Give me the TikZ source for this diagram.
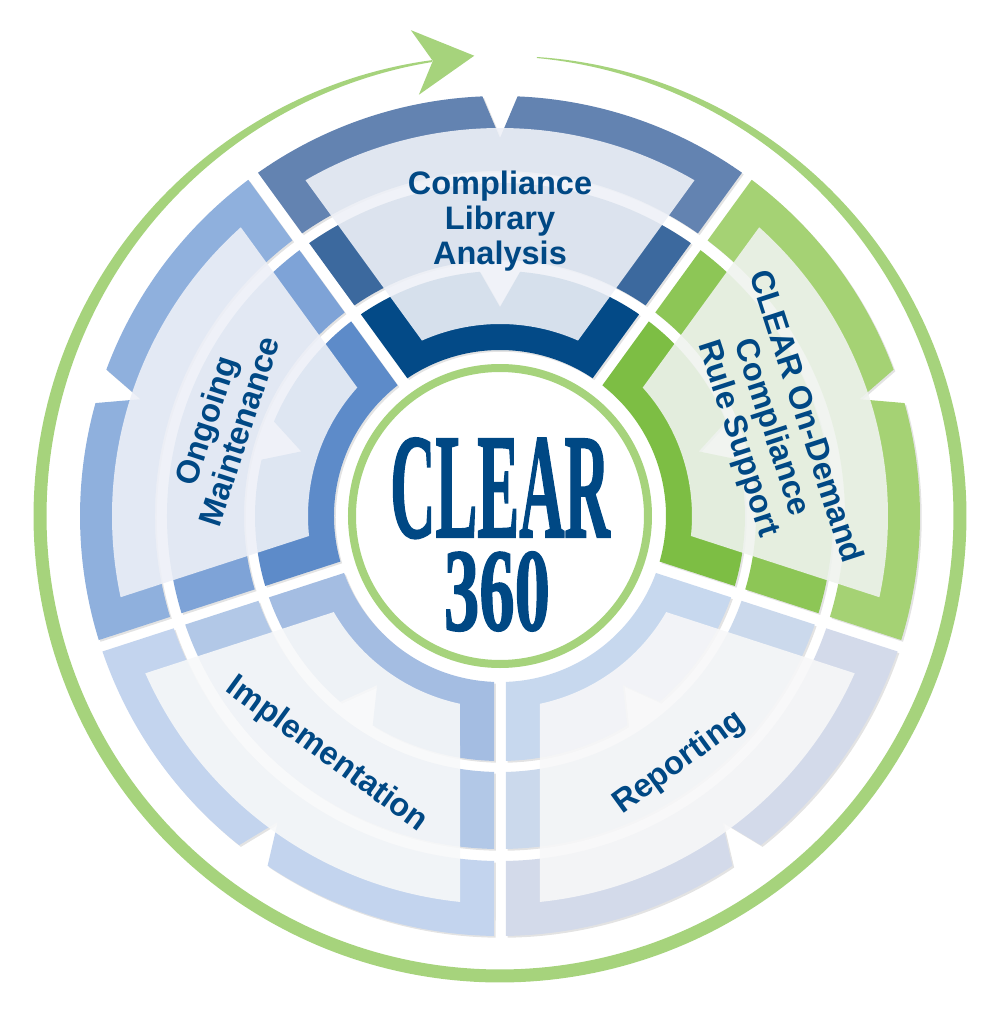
\documentclass[tikz,border=0pt]{standalone}
\usepackage{graphicx}
\usepackage{fontspec}
\setmainfont{Liberation Sans}
\newfontfamily\clearfont{Liberation Serif Bold}[FakeBold=1.6]
\usetikzlibrary{shadows}

\definecolor{ringgreen}{HTML}{A6D37C}
\definecolor{labelblue}{HTML}{004884}
% band colours, outer / middle / inner / panel, one row per segment
\definecolor{topout}{HTML}{6383B1}\definecolor{topmid}{HTML}{3C699E}\definecolor{topinn}{HTML}{034A87}\definecolor{toppan}{HTML}{EEF1F7}
\definecolor{grnout}{HTML}{A5D274}\definecolor{grnmid}{HTML}{8DC656}\definecolor{grninn}{HTML}{7DBE44}\definecolor{grnpan}{HTML}{EFF3EE}
\definecolor{repout}{HTML}{D3DAEA}\definecolor{repmid}{HTML}{CBD9EC}\definecolor{repinn}{HTML}{C7D8EE}\definecolor{reppan}{HTML}{F7F7F8}
\definecolor{impout}{HTML}{C3D4EE}\definecolor{impmid}{HTML}{B2C8E7}\definecolor{impinn}{HTML}{A4BDE2}\definecolor{imppan}{HTML}{F7F8F9}
\definecolor{ongout}{HTML}{8FB0DD}\definecolor{ongmid}{HTML}{7EA3D7}\definecolor{onginn}{HTML}{5D8BC9}\definecolor{ongpan}{HTML}{EDF0F7}

% a band of one segment: #1 centre angle, #2 inner radius, #3 outer radius
\newcommand\plainband[3]{({#1-36+asin(6/#3)}:#3)
  arc[start angle={#1-36+asin(6/#3)}, end angle={#1+36-asin(6/#3)}, radius=#3]
  -- ({#1+36-asin(6/#2)}:#2)
  arc[start angle={#1+36-asin(6/#2)}, end angle={#1-36+asin(6/#2)}, radius=#2] -- cycle}
% the same with a V notch in the outer edge: #4 half opening angle, #5 radius of the tip
\newcommand\notchband[5]{({#1-36+asin(6/#3)}:#3)
  arc[start angle={#1-36+asin(6/#3)}, end angle={#1-#4}, radius=#3]
  -- (#1:#5) -- ({#1+#4}:#3)
  arc[start angle={#1+#4}, end angle={#1+36-asin(6/#3)}, radius=#3]
  -- ({#1+36-asin(6/#2)}:#2)
  arc[start angle={#1+36-asin(6/#2)}, end angle={#1-36+asin(6/#2)}, radius=#2] -- cycle}
% the light front panel, its sides 40 units in from the segment borders
\newcommand\panelshape[1]{({#1-36+asin(40/388)}:388)
  arc[start angle={#1-36+asin(40/388)}, end angle={#1+36-asin(40/388)}, radius=388]
  -- ({#1+36-asin(40/192)}:192)
  arc[start angle={#1+36-asin(40/192)}, end angle={#1-36+asin(40/192)}, radius=192] -- cycle}

\begin{document}
\begin{tikzpicture}[
  x=0.2mm, y=0.2mm,
  declare function={ringw(\t)=13*sin(min(90,abs(\t-90),abs(\t+270)));},
  band/.style={drop shadow={shadow xshift=0.35mm, shadow yshift=-0.35mm, opacity=0.22}},
  panel/.style={fill opacity=0.9},
  lbl/.style={text=labelblue, font=\bfseries\fontsize{18.5}{20}\selectfont, align=center, inner sep=0pt},
  bigtext/.style={text=labelblue, anchor=base, inner sep=0pt},
  ring/.style={draw=ringgreen, line width=1.6mm}]

  \useasboundingbox (-500,-501) rectangle (500,516);

  % --- outer green ring, thin at both ends, and its arrow head ---
  \fill[ringgreen] plot[domain=85.4:-261.5, samples=300] ({\x}:{460+0.5*ringw(\x)})
    -- plot[domain=-261.5:85.4, samples=300] ({\x}:{460-0.5*ringw(\x)}) -- cycle;
  \fill[ringgreen] (93.2:461) -- (100.4:494) -- (98.4:460) -- (100.9:429) -- cycle;

  % --- the five segments: three bands each, then the light panel ---
  \foreach \ang/\outc/\midc/\innc/\panc in {90/topout/topmid/topinn/toppan, 18/grnout/grnmid/grninn/grnpan,
      -54/repout/repmid/repinn/reppan, 234/impout/impmid/impinn/imppan, 162/ongout/ongmid/onginn/ongpan} {
    \fill[band, \outc] \notchband{\ang}{345}{420}{2.4}{378};
    \fill[band, \midc] \plainband{\ang}{256}{333};
    \fill[band, \innc] \notchband{\ang}{166}{245}{4.7}{209};
    \fill[panel, \panc] \panelshape{\ang};
  }

  % --- inner green ring ---
  \draw[ring] (0,0) circle[radius=148];

  % --- segment labels ---
  \node[lbl] (cla) at (90:295) {Compliance\\Library\\Analysis};
  \node[lbl, rotate=-72] (crs) at (18:285) {CLEAR On-Demand\\Compliance\\Rule Support};
  \node[lbl, rotate=36] (rep) at (-54:305) {Reporting};
  \node[lbl, rotate=-36] (imp) at (234:295) {Implementation};
  \node[lbl, rotate=72] (ogm) at (162:292) {Ongoing\\Maintenance};

  % --- centre title ---
  \node[bigtext] (clr) at (0,-21) {\scalebox{0.42}[1]{\clearfont\fontsize{85}{85}\selectfont CLEAR}};
  \node[bigtext] (num) at (-3,-114) {\scalebox{0.6}[1]{\clearfont\fontsize{67}{67}\selectfont 360}};

\end{tikzpicture}
\end{document}
